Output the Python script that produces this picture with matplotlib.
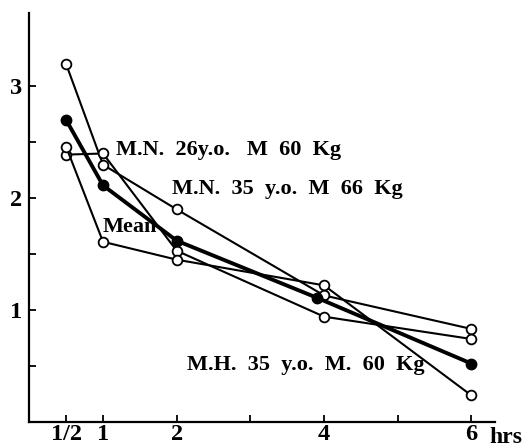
import numpy as np
import matplotlib
matplotlib.use("Agg")
import matplotlib.pyplot as plt

plt.rcParams['font.family'] = ['Liberation Serif', 'DejaVu Serif']
plt.rcParams['font.weight'] = 'bold'

# hours after dose
hours = [0.5, 1, 2, 4, 6]
hours_mean = [0.5, 1, 2, 3.9, 6]

# three subjects + mean
mn26 = [3.20, 2.30, 1.90, 1.13, 0.83]
mn35 = [2.39, 2.40, 1.53, 0.94, 0.74]
mh35 = [2.46, 1.61, 1.45, 1.22, 0.235]
mean = [2.70, 2.115, 1.62, 1.11, 0.52]

xticks = [0.5, 1, 2, 3, 4, 5, 6]
xticklabels = ['1/2', '1', '2', '', '4', '', '6']
yticks = [0.5, 1, 1.5, 2, 2.5, 3]
yticklabels = ['', '1', '', '2', '', '3']

fig = plt.figure(figsize=(5.28, 4.47), dpi=100)
ax = fig.add_axes([0.0555, 0.0566, 0.882, 0.915])

for s in (mn26, mn35, mh35):
    ax.plot(hours, s, color='black', linewidth=1.5, marker='o',
            markersize=7, markerfacecolor='white', markeredgecolor='black',
            markeredgewidth=1.3, zorder=3)
ax.plot(hours_mean, mean, color='black', linewidth=2.8, marker='o',
        markersize=7.5, markerfacecolor='black', markeredgecolor='black', zorder=4)

ax.set_xlim(0, 6.32)
ax.set_ylim(0, 3.66)
ax.set_xticks(xticks)
ax.set_xticklabels(xticklabels)
ax.set_yticks(yticks)
ax.set_yticklabels(yticklabels)
ax.tick_params(direction='in', length=5, width=1.3, labelsize=17.5, pad=1.5)
ax.tick_params(axis='y', pad=5)

for side in ('top', 'right'):
    ax.spines[side].set_visible(False)
for side in ('left', 'bottom'):
    ax.spines[side].set_linewidth(1.6)

fs = 16
ax.text(1.17, 2.435, 'M.N.  26y.o.   M  60  Kg', fontsize=fs, va='center', ha='left')
ax.text(1.94, 2.08, 'M.N.  35  y.o.  M  66  Kg', fontsize=fs, va='center', ha='left')
ax.text(0.99, 1.74, 'Mean', fontsize=fs, va='center', ha='left')
ax.text(2.14, 0.51, 'M.H.  35  y.o.  M.  60  Kg', fontsize=fs, va='center', ha='left')
ax.text(6.25, -0.045, 'hrs', fontsize=17, va='top', ha='left', clip_on=False)

fig.savefig('out.png', dpi=100)
